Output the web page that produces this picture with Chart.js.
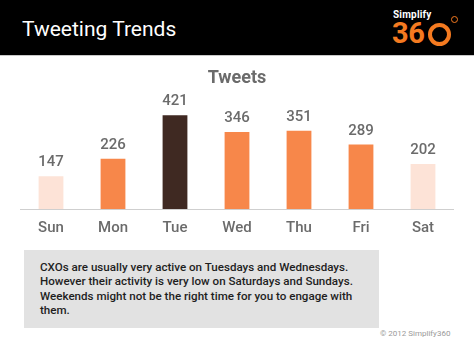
<!DOCTYPE html>
<html>
<head>
<meta charset="utf-8">
<script src="https://cdn.jsdelivr.net/npm/chart.js@4/dist/chart.umd.min.js"></script>
<style>
  html, body { margin: 0; padding: 0; background: #fff; }
  body { width: 474px; height: 355px; position: relative; overflow: hidden; font-family: Roboto, "Noto Sans", sans-serif; }
  #header { position: absolute; left: 0; top: 0; width: 474px; height: 55px; background: #000; }
  #hline { position: absolute; left: 0; top: 55px; width: 474px; height: 1px; background: #c8c8c8; }
  #title { position: absolute; left: 22px; top: 15px; color: #fff; font-size: 21px; line-height: 28px; font-weight: 400; }
  #simplify { position: absolute; left: 393px; top: 9px; color: #fff; font-size: 10px; font-weight: 700; line-height: 12px; letter-spacing: 0.2px; }
  #n36 { position: absolute; left: 392px; top: 17px; color: #f47a20; font-size: 29px; font-weight: 700; line-height: 32px; letter-spacing: -0.5px; }
  #ring { position: absolute; left: 428px; top: 23px; width: 15px; height: 15px; border: 4px solid #f47a20; border-radius: 50%; }
  #deg { position: absolute; left: 451px; top: 16px; width: 5px; height: 5px; border: 1px solid #f47a20; border-radius: 50%; }
  #wrap { position: absolute; left: 20px; top: 56px; width: 434px; height: 191px; }
  #box { position: absolute; left: 24px; top: 250px; width: 355px; height: 78px; background: #e2e2e2; }
  #note { position: absolute; left: 16px; top: 10px; color: #1e1e1e; font-size: 11.6px; line-height: 14.4px; font-weight: 500; white-space: nowrap; }
  #copy { position: absolute; left: 380px; top: 329px; color: #9a9a9a; font-size: 8px; line-height: 10px; }
</style>
</head>
<body>
<div id="header">
  <div id="title">Tweeting Trends</div>
  <div id="simplify">Simplify</div>
  <div id="n36">36</div>
  <div id="ring"></div>
  <div id="deg"></div>
</div>
<div id="hline"></div>
<div id="wrap"><canvas id="c"></canvas></div>
<div id="box"><div id="note">CXOs are usually very active on Tuesdays and Wednesdays.<br>However their activity is very low on Saturdays and Sundays.<br>Weekends might not be the right time for you to engage with<br>them.</div></div>
<div id="copy">© 2012 Simplify360</div>
<script>
const days = ["Sun", "Mon", "Tue", "Wed", "Thu", "Fri", "Sat"];
const tweets = [147, 226, 421, 346, 351, 289, 202];
const barColors = ["#fde3d7", "#f7874a", "#3f2922", "#f7874a", "#f7874a", "#f7874a", "#fde3d7"];

const valueLabels = {
  id: "valueLabels",
  afterDatasetsDraw(chart) {
    const ctx = chart.ctx;
    const meta = chart.getDatasetMeta(0);
    ctx.save();
    ctx.font = "500 15px Roboto";
    ctx.fillStyle = "#6b6b6b";
    ctx.textAlign = "center";
    ctx.textBaseline = "bottom";
    meta.data.forEach((bar, i) => {
      ctx.fillText(String(tweets[i]), bar.x, bar.y - 6);
    });
    ctx.restore();
  }
};

new Chart(document.getElementById("c"), {
  type: "bar",
  data: {
    labels: days,
    datasets: [{
      data: tweets,
      backgroundColor: barColors,
      borderWidth: 0,
      categoryPercentage: 1,
      barPercentage: 0.4
    }]
  },
  options: {
    responsive: true,
    maintainAspectRatio: false,
    animation: false,
    layout: { padding: 0 },
    plugins: {
      legend: { display: false },
      tooltip: { enabled: false },
      title: {
        display: true,
        text: "Tweets",
        color: "#6b6b6b",
        font: { family: "Roboto", size: 18, weight: "bold" },
        padding: { top: 12, bottom: 8 }
      }
    },
    scales: {
      x: {
        grid: { display: false, drawTicks: false },
        border: { display: true, color: "#cfcfcf", width: 1 },
        ticks: { color: "#6b6b6b", font: { family: "Roboto", size: 15, weight: "500" }, padding: 10 }
      },
      y: {
        display: false,
        min: 0,
        max: 500
      }
    }
  },
  plugins: [valueLabels]
});
</script>
</body>
</html>
